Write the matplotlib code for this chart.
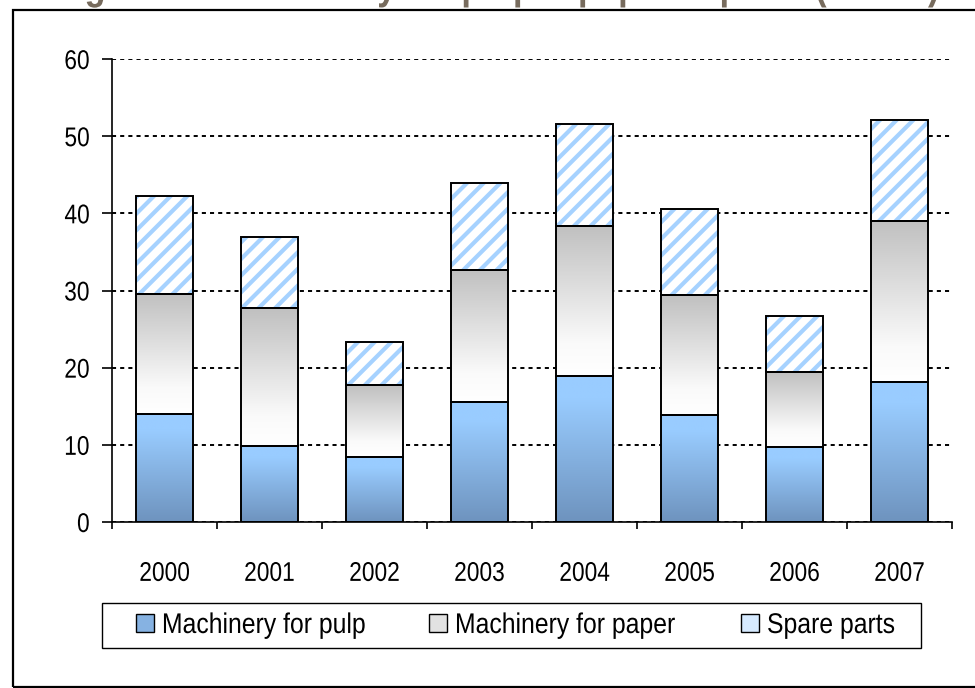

# Exports of machinery for pulp & paper, stacked bars with Excel-like gradients
import matplotlib
matplotlib.use('Agg')
import matplotlib.pyplot as plt
from matplotlib.colors import LinearSegmentedColormap
from matplotlib.patches import Rectangle
from matplotlib.patheffects import AbstractPathEffect
from matplotlib.transforms import Affine2D
import numpy as np

# data
years = ['2000', '2001', '2002', '2003', '2004', '2005', '2006', '2007']
pulp = [14.0, 9.9, 8.4, 15.5, 18.9, 13.9, 9.7, 18.1]
paper_top = [29.6, 27.7, 17.7, 32.7, 38.3, 29.4, 19.4, 39.0]
total = [42.2, 36.9, 23.3, 43.9, 51.6, 40.6, 26.7, 52.1]
paper = [round(t - p, 1) for t, p in zip(paper_top, pulp)]
spare = [round(t - p, 1) for t, p in zip(total, paper_top)]
labels = ['Machinery for pulp', 'Machinery for paper', 'Spare parts']
title = 'Figure 12. Machinery for pulp & paper exports (MEUR)'

plt.rcParams['font.family'] = ['Liberation Sans', 'DejaVu Sans']
plt.rcParams['hatch.linewidth'] = 3.0


class Squeeze(AbstractPathEffect):
    """Narrow the glyphs horizontally (the source uses Arial Narrow)."""

    def __init__(self, sx=0.84, anchor='center'):
        super().__init__()
        self.sx = sx
        self.anchor = anchor

    def draw_path(self, renderer, gc, tpath, affine, rgbFace=None):
        ext = tpath.get_extents()
        cx = {'left': 0.0, 'center': (ext.x0 + ext.x1) / 2, 'right': ext.x1}[self.anchor]
        t = Affine2D().translate(-cx, 0).scale(self.sx, 1).translate(cx, 0) + affine
        renderer.draw_path(gc, tpath, t, rgbFace)


fig = plt.figure(figsize=(9.75, 6.88), dpi=100)
ax = fig.add_axes([112 / 975, 1 - 522 / 688, 840 / 975, (522 - 59) / 688])

x = np.arange(len(years))
w = 0.535

blue_cmap = LinearSegmentedColormap.from_list(
    'blue', [(0, '#6E93BE'), (0.85, '#99CCFF'), (1, '#99CCFF')])
grey_cmap = LinearSegmentedColormap.from_list(
    'grey', [(0, '#FFFFFF'), (0.22, '#FAFAFA'), (1, '#C0C0C0')])
grad = np.linspace(0, 1, 256).reshape(-1, 1)


def gradient_bars(bars, cmap):
    # paint a vertical gradient inside every bar of the container
    for p in bars:
        x0, y0 = p.get_x(), p.get_y()
        im = ax.imshow(grad, extent=[x0, x0 + p.get_width(), y0, y0 + p.get_height()],
                       origin='lower', aspect='auto', cmap=cmap, zorder=2,
                       interpolation='bilinear')
        im.set_clip_path(p)


b1 = ax.bar(x, pulp, w, color='none', edgecolor='none', zorder=2)
gradient_bars(b1, blue_cmap)
b2 = ax.bar(x, paper, w, bottom=pulp, color='none', edgecolor='none', zorder=2)
gradient_bars(b2, grey_cmap)
ax.bar(x, spare, w, bottom=paper_top, color='white', edgecolor='#A6D2FF',
       hatch='//', linewidth=0, zorder=2)

# black outlines on top
for vals, bot in [(pulp, None), (paper, pulp), (spare, paper_top)]:
    ax.bar(x, vals, w, bottom=bot, color='none', edgecolor='black', linewidth=1.4, zorder=3)

ax.set_xlim(-0.5, len(years) - 0.5)
ax.set_ylim(0, 60)
ax.set_yticks(range(0, 61, 10))
ax.yaxis.grid(True, color='black', linestyle=(0, (2.1, 2.1)), linewidth=1.4)
ax.set_axisbelow(True)

for s in ['top', 'right']:
    ax.spines[s].set_visible(False)
ax.spines['left'].set_linewidth(1.2)
ax.spines['bottom'].set_linewidth(1.2)

ax.set_xticks(x)
ax.set_xticklabels(years)
ax.set_xticks(np.arange(-0.5, len(years)), minor=True)
ax.tick_params(axis='x', which='major', length=0, pad=28, labelsize=19.5)
ax.tick_params(axis='x', which='minor', length=5, width=1.2, direction='out')
ax.tick_params(axis='y', length=7, width=1.2, pad=9, labelsize=19.5)
for lab in ax.get_xticklabels():
    lab.set_path_effects([Squeeze(0.84, 'center')])
for lab in ax.get_yticklabels():
    lab.set_path_effects([Squeeze(0.84, 'right')])

# legend proxies, frame drawn separately like the Excel legend box
handles = [Rectangle((0, 0), 1, 1, facecolor='#86B2E2', edgecolor='black', linewidth=1),
           Rectangle((0, 0), 1, 1, facecolor='#E2E2E2', edgecolor='black', linewidth=1),
           Rectangle((0, 0), 1, 1, facecolor='#D6EAFF', edgecolor='black', linewidth=1)]
leg = fig.legend(handles, labels, loc='center', ncol=3, frameon=False,
                 bbox_to_anchor=(525 / 975, 1 - 626 / 688),
                 fontsize=20.5, handlelength=0.63, handleheight=0.63,
                 handletextpad=0.28, columnspacing=1.15, borderpad=0, borderaxespad=0)
for t in leg.get_texts():
    t.set_path_effects([Squeeze(0.87, 'left')])
fig.patches.append(Rectangle((102 / 975, 1 - 648 / 688), 819 / 975, 45 / 688,
                             transform=fig.transFigure, fill=False,
                             edgecolor='black', linewidth=1.0))

# outer frame of the chart area
fig.patches.append(Rectangle((13 / 975, 1 / 688), 1.0, 677 / 688, transform=fig.transFigure,
                             fill=False, edgecolor='black', linewidth=1.6))

# title, mostly cut off above the frame as in the source
fig.text(54 / 975, 1 + 1 / 688, title, fontsize=29.5, fontweight='bold',
         color='#776B5D', ha='left', va='baseline',
         path_effects=[Squeeze(0.84, 'left')])

fig.savefig('out.png', dpi=100)
